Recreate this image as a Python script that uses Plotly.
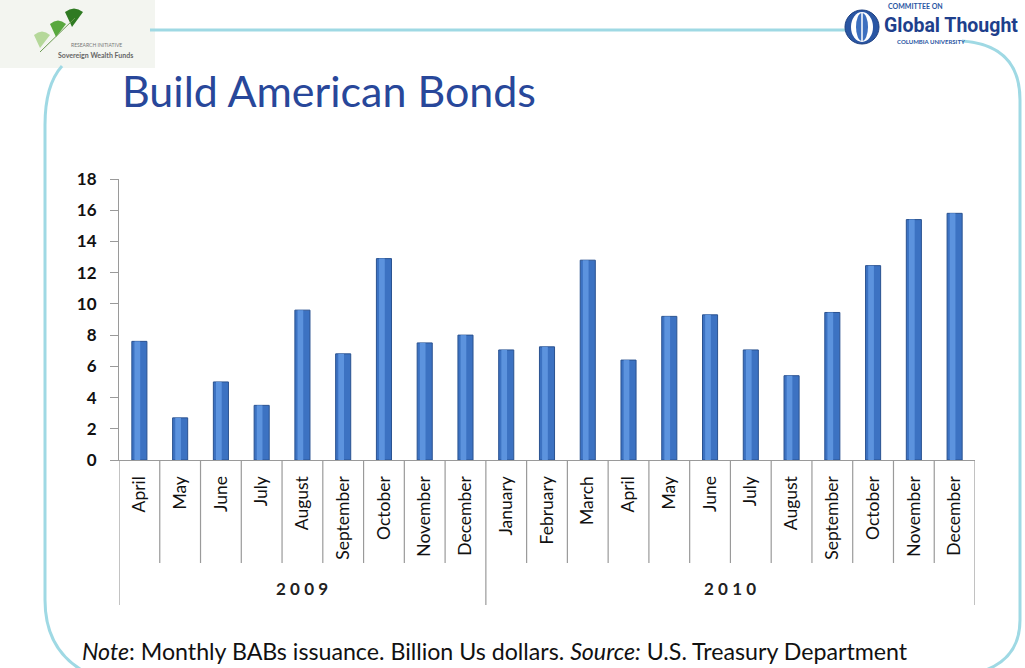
import plotly.graph_objects as go

# ---------------- data ----------------
months = ["April", "May", "June", "July", "August", "September", "October",
          "November", "December", "January", "February", "March", "April",
          "May", "June", "July", "August", "September", "October", "November",
          "December"]
years = ["2009", "2009", "2009", "2009", "2009", "2009", "2009", "2009", "2009",
         "2010", "2010", "2010", "2010", "2010", "2010", "2010", "2010", "2010",
         "2010", "2010", "2010"]
issuance = [7.6, 2.7, 5.0, 3.5, 9.6, 6.8, 12.9, 7.5, 8.0,
            7.05, 7.25, 12.8, 6.4, 9.2, 9.3, 7.05, 5.4, 9.45, 12.45, 15.4, 15.8]
y_ticks = [0, 2, 4, 6, 8, 10, 12, 14, 16, 18]

# ---------------- layout geometry ----------------
W, H = 1025, 668
ML, MR, MT, MB = 119, 50, 179, 208
PW, PH = W - ML - MR, H - MT - MB


def X(px):
    return (px - ML) / PW


def Y(py):
    return (H - MB - py) / PH


idx = list(range(len(months)))
FONT = "Lato"
CYAN = "#9FD9E4"
AXIS = "#9A9A9A"

fig = go.Figure()
fig.add_trace(go.Bar(x=idx, y=issuance, width=0.37,
                     marker=dict(color="#3C72C2", line=dict(color="#2A5290", width=1)),
                     hoverinfo="y", showlegend=False))
fig.add_trace(go.Bar(x=idx, y=issuance, width=0.14, offset=-0.12,
                     marker=dict(color="#5C93DE", line=dict(width=0)),
                     hoverinfo="skip", showlegend=False))

shapes = []
# category dividers
bounds = [i - 0.5 for i in range(len(months) + 1)]
group_edges = [0] + [i for i in range(1, len(years)) if years[i] != years[i - 1]] + [len(years)]
for k, b in enumerate(bounds):
    long_line = k in group_edges
    shapes.append(dict(type="line", xref="x", yref="paper", x0=b, x1=b,
                       y0=0, y1=Y(605) if long_line else Y(563),
                       line=dict(color=AXIS, width=1.2), layer="above"))

# slide frame
shapes.append(dict(type="line", xref="paper", yref="paper",
                   x0=X(150), x1=X(848), y0=Y(30), y1=Y(30),
                   line=dict(color=CYAN, width=3)))
shapes.append(dict(type="path", xref="paper", yref="paper",
                   path=f"M {X(62)},{Y(66)} Q {X(45)},{Y(85)} {X(45)},{Y(125)} "
                        f"L {X(45)},{Y(600)} Q {X(45)},{Y(650)} {X(85)},{Y(672)}",
                   line=dict(color=CYAN, width=3)))
shapes.append(dict(type="path", xref="paper", yref="paper",
                   path=f"M {X(962)},{Y(41)} Q {X(1020)},{Y(45)} {X(1020)},{Y(100)} "
                        f"L {X(1020)},{Y(620)} Q {X(1020)},{Y(660)} {X(980)},{Y(672)}",
                   line=dict(color=CYAN, width=3)))

# left logo box + leaves
shapes.append(dict(type="rect", xref="paper", yref="paper",
                   x0=X(0), x1=X(155), y0=Y(0), y1=Y(68),
                   fillcolor="#F3F5F0", line=dict(width=0), layer="below"))
for (cx, cy, r, col) in [(74, 18, 9, "#2F7A22"), (58, 29, 8, "#58A83E"), (42, 40, 8, "#B5D89A")]:
    shapes.append(dict(type="path", xref="paper", yref="paper",
                       path=f"M {X(cx - 2)},{Y(cy + r)} L {X(cx - r)},{Y(cy - r + 3)} "
                            f"Q {X(cx)},{Y(cy - r - 4)} {X(cx + r)},{Y(cy - r + 3)} Z",
                       fillcolor=col, line=dict(width=0)))
shapes.append(dict(type="line", xref="paper", yref="paper",
                   x0=X(40), x1=X(75), y0=Y(52), y1=Y(18),
                   line=dict(color="#6A9A50", width=1)))

# right logo globe
shapes.append(dict(type="circle", xref="paper", yref="paper",
                   x0=X(845), x1=X(879), y0=Y(10), y1=Y(44),
                   fillcolor="#2A56A3", line=dict(color="#1D3F80", width=1)))
shapes.append(dict(type="circle", xref="paper", yref="paper",
                   x0=X(851), x1=X(873), y0=Y(12), y1=Y(42),
                   fillcolor="#FFFFFF", line=dict(width=0)))
shapes.append(dict(type="circle", xref="paper", yref="paper",
                   x0=X(856), x1=X(868), y0=Y(13), y1=Y(41),
                   fillcolor="#3C6FBF", line=dict(width=0)))
shapes.append(dict(type="line", xref="paper", yref="paper",
                   x0=X(862), x1=X(862), y0=Y(13), y1=Y(41),
                   line=dict(color="#FFFFFF", width=1.5)))

annotations = []


def ann(text, px, py, size, color="#111111", xanchor="left", yanchor="middle",
        weight="normal", family=FONT, xref="paper", x=None):
    annotations.append(dict(text=text, xref=xref, yref="paper",
                            x=X(px) if x is None else x, y=Y(py),
                            xanchor=xanchor, yanchor=yanchor, showarrow=False,
                            font=dict(size=size, color=color, family=family, weight=weight)))


ann("Build American Bonds", 120, 91, 43, color="#28479A")
ann("<i>Note</i>: Monthly BABs issuance. Billion Us dollars. <i>Source:</i> U.S. Treasury Department",
    80, 651, 23.2, color="#111111")

# year group labels
for g in range(len(group_edges) - 1):
    a, b = group_edges[g], group_edges[g + 1]
    ann("&#8197;".join(years[a]), 0, 588, 17, color="#222222", xanchor="center",
        weight="bold", xref="x", x=(a + b - 1) / 2)

# logos text
ann("RESEARCH INITIATIVE", 96, 45, 5, color="#777777", xanchor="center")
ann("Sovereign Wealth Funds", 95, 55, 7, color="#666666", xanchor="center", weight="bold")
ann("COMMITTEE ON", 886, 6, 7, color="#2A56A3", weight="bold")
ann("Global Thought", 882, 25, 19.5, color="#1E3F8C", weight="bold", family="Roboto")
ann("COLUMBIA UNIVERSITY", 895, 42, 6, color="#2A56A3", weight="bold")

fig.update_layout(
    width=W, height=H,
    margin=dict(l=ML, r=MR, t=MT, b=MB, autoexpand=False),
    paper_bgcolor="white", plot_bgcolor="white",
    barmode="overlay",
    shapes=shapes, annotations=annotations,
    showlegend=False,
    font=dict(family=FONT),
    xaxis=dict(range=[-0.5, len(months) - 0.5], tickvals=idx, ticktext=months,
               tickangle=-90, ticks="", showgrid=False, zeroline=False,
               showline=True, linecolor=AXIS, linewidth=1.2,
               tickfont=dict(size=17.5, color="#111111", family=FONT),
               ticklabelstandoff=8, automargin=False, fixedrange=True),
    yaxis=dict(range=[0, 18], tickvals=y_ticks, ticks="outside", ticklen=8,
               tickcolor=AXIS, showgrid=False, zeroline=False,
               showline=True, linecolor=AXIS, linewidth=1.2,
               tickfont=dict(size=17, color="#111111", family=FONT, weight="bold"),
               ticklabelstandoff=10, automargin=False, fixedrange=True),
)

fig.write_html("out.html")
